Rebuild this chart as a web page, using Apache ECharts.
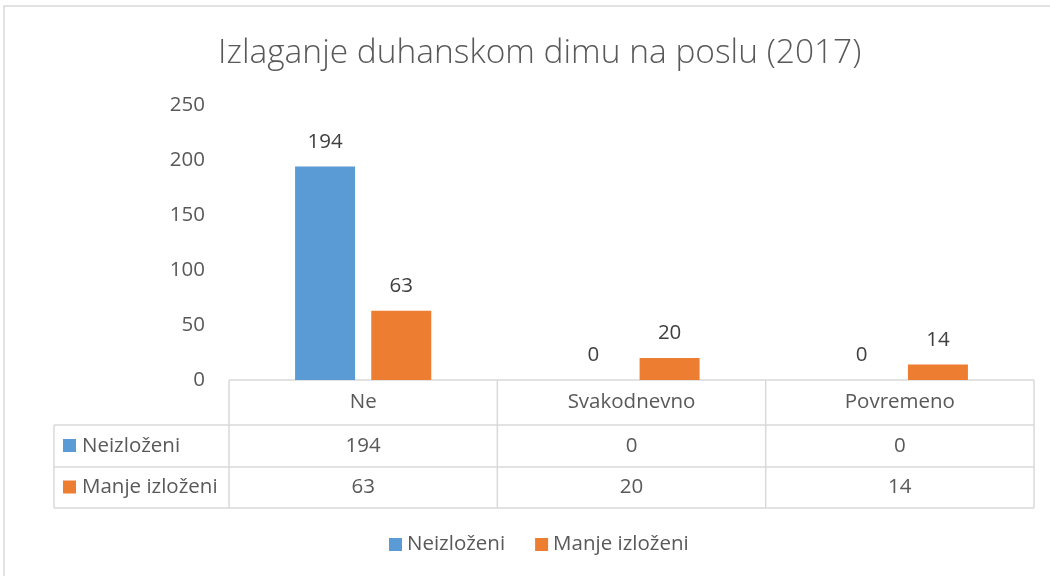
<!DOCTYPE html>
<html>
<head>
<meta charset="utf-8">
<script src="https://cdn.jsdelivr.net/npm/echarts@6/dist/echarts.min.js"></script>
<style>
  html, body { margin: 0; padding: 0; background: #fff; }
  #chart { width: 1050px; height: 576px; }
</style>
</head>
<body>
<div id="chart"></div>
<script>
// podaci
const categories = ['Ne', 'Svakodnevno', 'Povremeno'];
const seriesNames = ['Neizloženi', 'Manje izloženi'];
const neizlozeni = [194, 0, 0];
const manjeIzlozeni = [63, 20, 14];
const colors = ['#5B9BD5', '#ED7D31'];

const FONT = '"Open Sans", "Noto Sans", sans-serif';
const TXT = '#595959';
const LINE = '#d9d9d9';
const FS = 20.5;

// raspored
const gridLeft = 229, gridRight = 1034, gridTop = 105, gridBottom = 380;
const tableLeft = 54;
const rowLines = [380, 425, 467, 508];

const chart = echarts.init(document.getElementById('chart'));

const buildTable = () => {
    const els = [];
    const colW = (gridRight - gridLeft) / categories.length;
    const line = (x1, y1, x2, y2) => els.push({
        type: 'line', silent: true,
        shape: { x1, y1, x2, y2 },
        style: { stroke: LINE, lineWidth: 1.5 }
    });
    const text = (x, y, t, align) => els.push({
        type: 'text', silent: true, x, y,
        style: { text: t, fill: TXT, font: FS + 'px ' + FONT, align: align || 'center', verticalAlign: 'middle' }
    });
    // horizontalne linije
    line(gridLeft, rowLines[0], gridRight, rowLines[0]);
    for (let i = 1; i < rowLines.length; i++) line(tableLeft, rowLines[i], gridRight, rowLines[i]);
    // vertikalne linije
    line(tableLeft, rowLines[1], tableLeft, rowLines[3]);
    for (let i = 0; i <= categories.length; i++) {
        const x = gridLeft + i * colW;
        line(x, rowLines[0], x, rowLines[3]);
    }
    // zaglavlje
    categories.forEach((c, i) => text(gridLeft + (i + 0.5) * colW, (rowLines[0] + rowLines[1]) / 2, c));
    // redovi
    [neizlozeni, manjeIzlozeni].forEach((row, r) => {
        const yc = (rowLines[r + 1] + rowLines[r + 2]) / 2;
        els.push({
            type: 'rect', silent: true,
            shape: { x: tableLeft + 9, y: yc - 7, width: 13, height: 13 },
            style: { fill: colors[r] }
        });
        text(tableLeft + 28, yc, seriesNames[r], 'left');
        row.forEach((v, i) => text(gridLeft + (i + 0.5) * colW, yc, String(v)));
    });
    // okvir grafikona
    els.push({
        type: 'rect', silent: true,
        shape: { x: 4, y: 6, width: 1100, height: 620 },
        style: { fill: 'none', stroke: LINE, lineWidth: 1.5 }
    });
    return els;
};

const labelCfg = {
    show: true,
    position: 'top',
    distance: 14,
    color: '#404040',
    fontSize: FS,
    fontFamily: FONT
};

chart.setOption({
    backgroundColor: '#fff',
    animation: false,
    title: {
        text: 'Izlaganje duhanskom dimu na poslu (2017)',
        left: 213,
        top: 31,
        textStyle: {
            color: TXT,
            fontSize: 33.5,
            fontWeight: 300,
            fontFamily: FONT
        }
    },
    legend: {
        bottom: 16,
        left: 384,
        itemWidth: 13,
        itemHeight: 13,
        itemGap: 30,
        icon: 'rect',
        textStyle: { color: TXT, fontSize: FS, fontFamily: FONT },
        data: seriesNames
    },
    grid: {
        left: gridLeft,
        right: 1050 - gridRight,
        top: gridTop,
        bottom: 576 - gridBottom,
        containLabel: false
    },
    xAxis: {
        type: 'category',
        data: categories,
        axisLine: { show: false },
        axisTick: { show: false },
        axisLabel: { show: false }
    },
    yAxis: {
        type: 'value',
        min: 0,
        max: 250,
        interval: 50,
        splitLine: { show: false },
        axisLine: { show: false },
        axisTick: { show: false },
        axisLabel: {
            color: TXT,
            fontSize: FS,
            fontFamily: FONT,
            margin: 24
        }
    },
    series: [
        {
            name: seriesNames[0],
            type: 'bar',
            barWidth: 60,
            barGap: '27%',
            itemStyle: { color: colors[0] },
            label: labelCfg,
            data: neizlozeni
        },
        {
            name: seriesNames[1],
            type: 'bar',
            barWidth: 60,
            barGap: '27%',
            itemStyle: { color: colors[1] },
            label: labelCfg,
            data: manjeIzlozeni
        }
    ],
    graphic: buildTable()
});
</script>
</body>
</html>
